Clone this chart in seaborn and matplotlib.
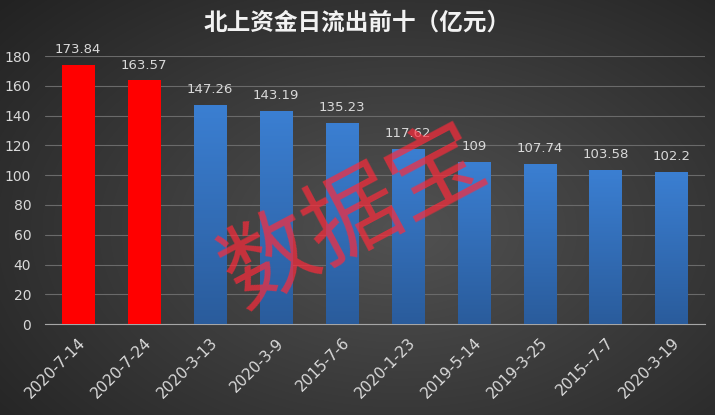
import numpy as np
import pandas as pd
import matplotlib
matplotlib.use('Agg')
import matplotlib.pyplot as plt
import seaborn as sns

dates = ['2020-7-14', '2020-7-24', '2020-3-13', '2020-3-9', '2015-7-6',
         '2020-1-23', '2019-5-14', '2019-3-25', '2015--7-7', '2020-3-19']
outflow = [173.84, 163.57, 147.26, 143.19, 135.23, 117.62, 109, 107.74, 103.58, 102.2]
value_labels = ['173.84', '163.57', '147.26', '143.19', '135.23', '117.62', '109',
                '107.74', '103.58', '102.2']
highlight = [True, True, False, False, False, False, False, False, False, False]

sns.set_style('dark')
plt.rcParams['font.family'] = ['Noto Sans CJK SC', 'DejaVu Sans']

df = pd.DataFrame({'date': dates, 'value': outflow})

fig = plt.figure(figsize=(7.15, 4.15), dpi=100)

# radial gradient background
bg = fig.add_axes([0, 0, 1, 1], zorder=-10)
yy, xx = np.mgrid[0:415, 0:715]
r = np.sqrt(((xx - 400) / 520) ** 2 + ((yy - 230) / 330) ** 2)
shade = np.clip(0.32 - 0.18 * r, 0.12, 0.32)
bg.imshow(np.dstack([shade, shade, shade]), aspect='auto', extent=[0, 1, 0, 1])
bg.set_axis_off()

ax = fig.add_axes([0.063, 0.219, 0.923, 0.646])
ax.set_facecolor('none')
sns.barplot(data=df, x='date', y='value', width=0.5, ax=ax, color='#3a7bcc',
            saturation=1, zorder=3)

grad = np.linspace(0, 1, 100).reshape(-1, 1)
cmap = matplotlib.colors.LinearSegmentedColormap.from_list('b', ['#2a5c9c', '#3b7fd2'])
for p, hl in zip(ax.patches, highlight):
    if hl:
        p.set_facecolor('#ff0000')
    else:
        x0, w = p.get_x(), p.get_width()
        h = p.get_height()
        im = ax.imshow(grad, cmap=cmap, aspect='auto', origin='lower',
                       extent=[x0, x0 + w, 0, h], zorder=3)
        im.set_clip_path(p)
    p.set_edgecolor('none')

for i, (v, lab) in enumerate(zip(outflow, value_labels)):
    ax.text(i, v + 6, lab, ha='center', va='bottom', color='#d9d9d9', fontsize=9.5,
            family=['DejaVu Sans'], clip_on=False)

ax.set_xlim(-0.5, 9.5)
ax.set_ylim(0, 180)
ax.set_yticks(range(0, 181, 20))
ax.yaxis.grid(True, color='#6a6a6a', linewidth=0.8)
ax.xaxis.grid(False)
for s in ['top', 'right', 'left']:
    ax.spines[s].set_visible(False)
ax.spines['bottom'].set_color('#a6a6a6')
ax.set_xlabel('')
ax.set_ylabel('')
ax.tick_params(axis='y', colors='#d9d9d9', labelsize=10, length=0, pad=10)
ax.tick_params(axis='x', colors='#d9d9d9', labelsize=11, length=0, pad=8)
plt.setp(ax.get_xticklabels(), rotation=45, ha='right', rotation_mode='anchor',
         family=['DejaVu Sans'])
plt.setp(ax.get_yticklabels(), family=['DejaVu Sans'])

fig.text(0.5, 0.945, '北上资金日流出前十（亿元）', ha='center', va='center',
         color='#f2f2f2', fontsize=17, fontweight='bold')

fig.text(0.495, 0.475, '数据宝', ha='center', va='center', color='#ff2a3a',
         alpha=0.7, fontsize=68, rotation=28, zorder=20)

fig.savefig('out.png', dpi=100)
